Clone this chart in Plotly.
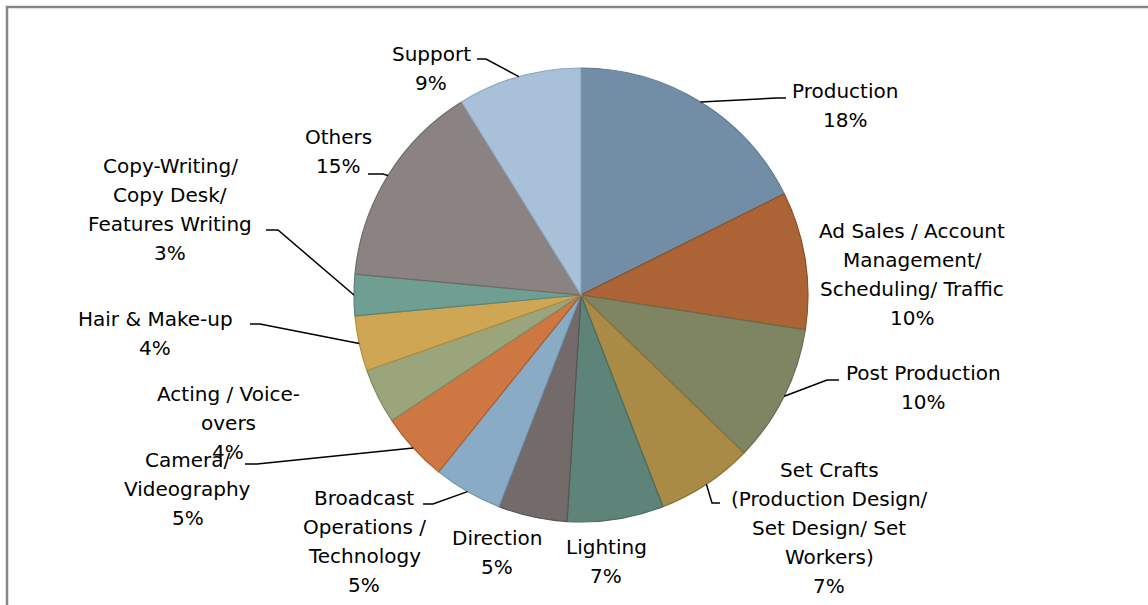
import math
import plotly.graph_objects as go

# Share of job postings by function (percent)
categories = [
    "Production",
    "Ad Sales / Account Management/ Scheduling/ Traffic",
    "Post Production",
    "Set Crafts (Production Design/ Set Design/ Set Workers)",
    "Lighting",
    "Direction",
    "Broadcast Operations / Technology",
    "Camera/ Videography",
    "Acting / Voice-overs",
    "Hair & Make-up",
    "Copy-Writing/ Copy Desk/ Features Writing",
    "Others",
    "Support",
]
shares = [18, 10, 10, 7, 7, 5, 5, 5, 4, 4, 3, 15, 9]

# How each category name wraps in its label
label_lines = [
    ["Production"],
    ["Ad Sales / Account", "Management/", "Scheduling/ Traffic"],
    ["Post Production"],
    ["Set Crafts", "(Production Design/", "Set Design/ Set", "Workers)"],
    ["Lighting"],
    ["Direction"],
    ["Broadcast", "Operations /", "Technology"],
    ["Camera/", "Videography"],
    ["Acting / Voice-", "overs"],
    ["Hair & Make-up"],
    ["Copy-Writing/", "Copy Desk/", "Features Writing"],
    ["Others"],
    ["Support"],
]

fill_colors = [
    "#728EA7", "#AC6336", "#7F8462", "#A98B46", "#5E8379", "#736A6A",
    "#8AABC6", "#CF7742", "#9BA57B", "#CFA754", "#6F9E93", "#8B8381", "#A9C0D9",
]
edge_colors = [
    "#5E7890", "#8E4E26", "#686D4E", "#8C7234", "#4A6B62", "#5C5454",
    "#7090AA", "#B05F2E", "#7F8963", "#B08C3E", "#5A847A", "#716967", "#8CA6C0",
]

W, H = 1148, 605
CX, CY, R = 581, 295, 227  # pie centre and radius in pixels

# Label placement: (centre x, first line y, leader polyline from the label side)
label_layout = [
    (845, 91, [(776, 98), (786, 98)]),
    (912, 231, None),
    (923, 373, [(827, 380), (839, 380)]),
    (829, 470, [(712, 503), (720, 503)]),
    (606, 547, None),
    (497, 538, None),
    (364, 498, [(433, 504), (423, 504)]),
    (188, 460, [(257, 464), (245, 464)]),
    (228, 394, None),
    (155, 319, [(260, 324), (250, 324)]),
    (170, 166, [(278, 230), (266, 230)]),
    (338, 137, [(383, 174), (368, 174)]),
    (431, 54, [(486, 59), (477, 59)]),
]
LINE_GAP = 29


def px(x):
    return x / W


def py(y):
    return 1 - y / H


fig = go.Figure(
    go.Pie(
        labels=categories,
        values=shares,
        sort=False,
        direction="clockwise",
        rotation=0,
        textinfo="none",
        hoverinfo="label+value",
        marker=dict(colors=fill_colors, line=dict(color=edge_colors, width=1.2)),
        domain=dict(x=[px(CX - R), px(CX + R)], y=[py(CY + R), py(CY - R)]),
        showlegend=False,
    )
)

annotations = []
shapes = []
total = sum(shares)
cum = 0
for i, v in enumerate(shares):
    mid = (cum + v / 2) / total * 2 * math.pi
    cum += v
    cx, y0, leader = label_layout[i]
    lines = label_lines[i] + [f"{v}%"]
    for k, line in enumerate(lines):
        annotations.append(dict(
            x=px(cx), y=py(y0 + k * LINE_GAP), xref="paper", yref="paper",
            text=line, showarrow=False, xanchor="center", yanchor="middle",
            font=dict(family="DejaVu Sans, sans-serif", size=20, color="#000000"),
        ))
    if leader:
        ex = CX + R * math.sin(mid)
        ey = CY - R * math.cos(mid)
        pts = [(ex, ey)] + leader
        path = "M " + " L ".join(f"{px(a):.5f},{py(b):.5f}" for a, b in pts)
        shapes.append(dict(type="path", path=path, xref="paper", yref="paper",
                           line=dict(color="#000000", width=1.5)))

# Chart frame
shapes.append(dict(type="rect", xref="paper", yref="paper",
                   x0=px(7), y0=py(H + 20), x1=px(W + 20), y1=py(7),
                   line=dict(color="#878787", width=2.5), fillcolor="rgba(0,0,0,0)"))

fig.update_layout(
    width=W, height=H,
    margin=dict(l=0, r=0, t=0, b=0),
    paper_bgcolor="#FFFFFF",
    plot_bgcolor="#FFFFFF",
    annotations=annotations,
    shapes=shapes,
)

fig.write_html("out.html")
